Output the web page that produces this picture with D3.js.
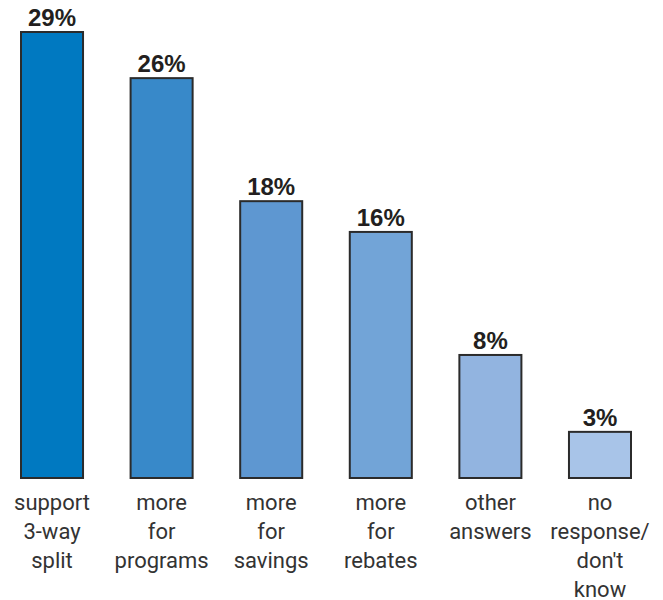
<!DOCTYPE html>
<html>
<head>
<meta charset="utf-8">
<script src="https://cdn.jsdelivr.net/npm/d3@7"></script>
<style>
  body { margin: 0; background: #fff; }
</style>
</head>
<body>
<svg id="chart" width="663" height="600"></svg>
<script>
var categories = [
  ["support", "3-way", "split"],
  ["more", "for", "programs"],
  ["more", "for", "savings"],
  ["more", "for", "rebates"],
  ["other", "answers"],
  ["no", "response/", "don't", "know"]
];
var values = [29, 26, 18, 16, 8, 3];
var colors = ["#0079c1", "#3889c9", "#5e97d1", "#72a4d7", "#92b4e0", "#a8c4e8"];

var svg = d3.select("#chart");

var x = d3.scaleBand()
  .domain(d3.range(values.length))
  .range([21, 631])
  .paddingInner(0.434)
  .paddingOuter(0);

var y = d3.scaleLinear()
  .domain([0, 29])
  .range([478, 32]);

// bars
svg.selectAll(".bar")
  .data(values)
  .enter().append("rect")
    .attr("class", "bar")
    .attr("x", function(d, i) { return x(i); })
    .attr("y", function(d) { return y(d); })
    .attr("width", x.bandwidth())
    .attr("height", function(d) { return y(0) - y(d); })
    .attr("fill", function(d, i) { return colors[i]; })
    .attr("stroke", "#2b2b2b")
    .attr("stroke-width", 2);

// value labels
svg.selectAll(".val")
  .data(values)
  .enter().append("text")
    .attr("class", "val")
    .attr("x", function(d, i) { return x(i) + x.bandwidth() / 2; })
    .attr("y", function(d) { return y(d) - 6; })
    .attr("text-anchor", "middle")
    .attr("font-family", "Liberation Sans, Arial, sans-serif")
    .attr("font-weight", "bold")
    .attr("font-size", 24)
    .attr("fill", "#231f20")
    .text(function(d) { return d + "%"; });

// category labels
var cat = svg.selectAll(".cat")
  .data(categories)
  .enter().append("text")
    .attr("class", "cat")
    .attr("text-anchor", "middle")
    .attr("font-family", "Roboto, sans-serif")
    .attr("font-size", 22)
    .attr("fill", "#333");

cat.selectAll("tspan")
  .data(function(d, i) { return d.map(function(t) { return {t: t, i: i}; }); })
  .enter().append("tspan")
    .attr("x", function(d) { return x(d.i) + x.bandwidth() / 2; })
    .attr("y", function(d, j) { return 510 + j * 29; })
    .text(function(d) { return d.t; });
</script>
</body>
</html>
